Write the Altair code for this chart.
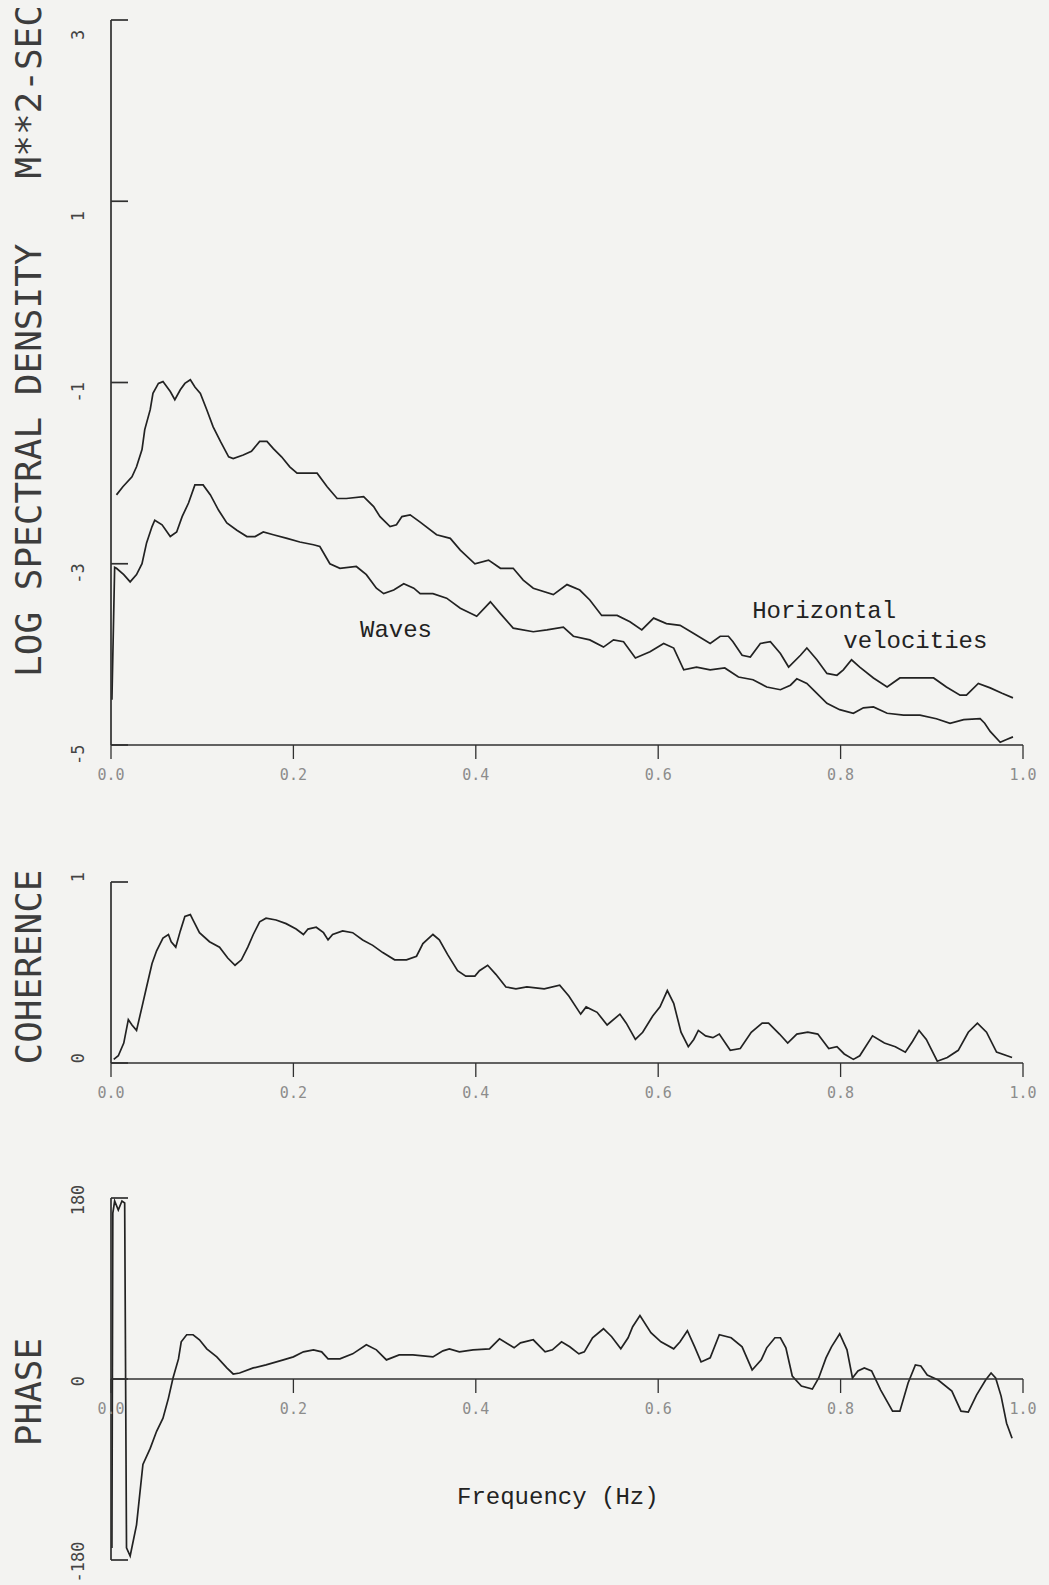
import altair as alt
import pandas as pd

# ---------------- data ----------------
# Log spectral density, horizontal velocities (upper curve)
f_hv = [0.006, 0.013, 0.023, 0.028, 0.034, 0.037, 0.043, 0.046, 0.052, 0.057,
        0.065, 0.070, 0.076, 0.081, 0.087, 0.092, 0.098, 0.105, 0.112, 0.120,
        0.129, 0.134, 0.145, 0.154, 0.163, 0.171, 0.178, 0.187, 0.196, 0.204,
        0.215, 0.226, 0.237, 0.248, 0.258, 0.277, 0.288, 0.295, 0.306, 0.313,
        0.319, 0.328, 0.339, 0.357, 0.372, 0.383, 0.399, 0.414, 0.427, 0.441,
        0.452, 0.463, 0.485, 0.500, 0.514, 0.525, 0.538, 0.555, 0.569, 0.582,
        0.595, 0.609, 0.624, 0.639, 0.657, 0.668, 0.677, 0.682, 0.692, 0.701,
        0.712, 0.723, 0.734, 0.743, 0.756, 0.763, 0.774, 0.785, 0.796, 0.803,
        0.812, 0.821, 0.836, 0.851, 0.865, 0.883, 0.902, 0.916, 0.931, 0.938,
        0.951, 0.964, 0.977, 0.989]
psd_hv = [-2.24, -2.15, -2.04, -1.93, -1.74, -1.52, -1.30, -1.12, -1.01, -0.99,
          -1.10, -1.19, -1.08, -1.01, -0.97, -1.05, -1.12, -1.30, -1.49, -1.65,
          -1.82, -1.84, -1.80, -1.76, -1.65, -1.65, -1.73, -1.82, -1.93, -2.00,
          -2.00, -2.00, -2.15, -2.28, -2.28, -2.26, -2.37, -2.48, -2.59, -2.57,
          -2.48, -2.46, -2.54, -2.68, -2.72, -2.85, -3.00, -2.96, -3.05, -3.05,
          -3.18, -3.27, -3.34, -3.23, -3.29, -3.40, -3.57, -3.57, -3.64, -3.73,
          -3.60, -3.66, -3.68, -3.77, -3.88, -3.80, -3.80, -3.86, -4.01, -4.03,
          -3.88, -3.86, -3.99, -4.14, -4.01, -3.93, -4.06, -4.21, -4.23, -4.17,
          -4.06, -4.14, -4.26, -4.36, -4.26, -4.26, -4.26, -4.36, -4.45, -4.45,
          -4.32, -4.37, -4.43, -4.48]

# Log spectral density, waves (lower curve)
f_wv = [0.001, 0.004, 0.006, 0.014, 0.021, 0.028, 0.034, 0.039, 0.045, 0.048,
        0.056, 0.065, 0.072, 0.078, 0.085, 0.092, 0.101, 0.109, 0.118, 0.127,
        0.138, 0.149, 0.158, 0.167, 0.178, 0.193, 0.207, 0.222, 0.229, 0.240,
        0.251, 0.269, 0.280, 0.291, 0.299, 0.310, 0.321, 0.332, 0.339, 0.353,
        0.368, 0.383, 0.401, 0.416, 0.427, 0.441, 0.463, 0.478, 0.496, 0.507,
        0.525, 0.540, 0.551, 0.562, 0.575, 0.591, 0.606, 0.617, 0.628, 0.642,
        0.657, 0.673, 0.688, 0.704, 0.719, 0.734, 0.745, 0.752, 0.763, 0.774,
        0.785, 0.799, 0.814, 0.825, 0.836, 0.851, 0.869, 0.887, 0.905, 0.920,
        0.935, 0.953, 0.958, 0.964, 0.975, 0.982, 0.989]
psd_wv = [-4.50, -3.04, -3.05, -3.12, -3.20, -3.12, -3.00, -2.77, -2.59, -2.52,
          -2.57, -2.70, -2.65, -2.48, -2.33, -2.13, -2.13, -2.24, -2.41, -2.55,
          -2.63, -2.70, -2.70, -2.65, -2.68, -2.72, -2.76, -2.79, -2.81, -3.00,
          -3.05, -3.03, -3.12, -3.27, -3.33, -3.29, -3.22, -3.27, -3.33, -3.33,
          -3.38, -3.49, -3.58, -3.42, -3.55, -3.71, -3.75, -3.73, -3.70, -3.80,
          -3.84, -3.92, -3.84, -3.86, -4.04, -3.97, -3.88, -3.93, -4.17, -4.14,
          -4.17, -4.15, -4.25, -4.28, -4.36, -4.39, -4.34, -4.27, -4.32, -4.43,
          -4.54, -4.61, -4.65, -4.59, -4.58, -4.65, -4.67, -4.67, -4.71, -4.76,
          -4.72, -4.71, -4.76, -4.85, -4.97, -4.94, -4.91]

# Coherence
f_coh = [0.003, 0.008, 0.014, 0.019, 0.023, 0.028, 0.034, 0.039, 0.045, 0.050,
         0.057, 0.063, 0.066, 0.071, 0.076, 0.081, 0.087, 0.090, 0.097, 0.108,
         0.119, 0.128, 0.136, 0.143, 0.150, 0.156, 0.163, 0.170, 0.181, 0.192,
         0.203, 0.211, 0.216, 0.225, 0.233, 0.238, 0.243, 0.254, 0.265, 0.276,
         0.287, 0.298, 0.311, 0.324, 0.335, 0.342, 0.353, 0.360, 0.369, 0.380,
         0.389, 0.399, 0.404, 0.413, 0.422, 0.433, 0.444, 0.456, 0.475, 0.492,
         0.502, 0.515, 0.521, 0.533, 0.544, 0.558, 0.565, 0.575, 0.583, 0.594,
         0.602, 0.610, 0.617, 0.625, 0.633, 0.639, 0.644, 0.652, 0.660, 0.667,
         0.679, 0.690, 0.702, 0.714, 0.721, 0.733, 0.742, 0.752, 0.764, 0.775,
         0.787, 0.796, 0.804, 0.814, 0.821, 0.835, 0.848, 0.860, 0.871, 0.879,
         0.886, 0.894, 0.906, 0.917, 0.929, 0.940, 0.950, 0.960, 0.971, 0.988]
coh = [0.02, 0.04, 0.11, 0.24, 0.21, 0.18, 0.31, 0.42, 0.55, 0.62,
       0.69, 0.71, 0.67, 0.64, 0.73, 0.81, 0.82, 0.79, 0.72, 0.67,
       0.64, 0.58, 0.54, 0.57, 0.64, 0.71, 0.78, 0.80, 0.79, 0.77,
       0.74, 0.71, 0.74, 0.75, 0.72, 0.68, 0.71, 0.73, 0.72, 0.68,
       0.65, 0.61, 0.57, 0.57, 0.59, 0.66, 0.71, 0.68, 0.60, 0.51,
       0.48, 0.48, 0.51, 0.54, 0.49, 0.42, 0.41, 0.42, 0.41, 0.43,
       0.37, 0.27, 0.31, 0.28, 0.21, 0.27, 0.22, 0.13, 0.17, 0.26,
       0.31, 0.40, 0.33, 0.17, 0.09, 0.13, 0.18, 0.15, 0.14, 0.16,
       0.07, 0.08, 0.17, 0.22, 0.22, 0.16, 0.11, 0.16, 0.17, 0.16,
       0.08, 0.09, 0.05, 0.02, 0.04, 0.15, 0.11, 0.09, 0.06, 0.12,
       0.18, 0.13, 0.01, 0.03, 0.07, 0.17, 0.22, 0.17, 0.06, 0.03]

# Phase (degrees)
f_ph = [0.001, 0.002, 0.004, 0.008, 0.012, 0.015, 0.017, 0.021, 0.028, 0.035,
        0.043, 0.050, 0.057, 0.063, 0.068, 0.074, 0.077, 0.083, 0.090, 0.097,
        0.105, 0.116, 0.127, 0.134, 0.141, 0.156, 0.170, 0.189, 0.200, 0.211,
        0.222, 0.231, 0.238, 0.251, 0.265, 0.280, 0.291, 0.302, 0.316, 0.331,
        0.353, 0.364, 0.371, 0.382, 0.397, 0.415, 0.426, 0.442, 0.449, 0.463,
        0.476, 0.484, 0.494, 0.503, 0.513, 0.519, 0.528, 0.540, 0.549, 0.559,
        0.567, 0.572, 0.580, 0.592, 0.603, 0.617, 0.624, 0.632, 0.640, 0.647,
        0.657, 0.667, 0.680, 0.692, 0.703, 0.713, 0.719, 0.728, 0.734, 0.740,
        0.747, 0.757, 0.769, 0.776, 0.784, 0.790, 0.799, 0.807, 0.813, 0.819,
        0.826, 0.834, 0.844, 0.857, 0.865, 0.874, 0.882, 0.888, 0.895, 0.907,
        0.922, 0.932, 0.940, 0.949, 0.959, 0.965, 0.970, 0.976, 0.982, 0.988]
phase = [-168, 165, 177, 168, 177, 175, -168, -176, -145, -85,
         -69, -52, -39, -19, 1, 20, 37, 44, 44, 39,
         30, 22, 11, 5, 6, 11, 14, 19, 22, 27,
         29, 27, 20, 20, 25, 34, 29, 19, 24, 24,
         22, 28, 30, 27, 29, 30, 40, 31, 36, 39,
         27, 29, 37, 32, 25, 27, 41, 50, 42, 30,
         41, 52, 63, 46, 37, 30, 37, 48, 32, 17,
         21, 44, 41, 32, 9, 19, 31, 41, 41, 31,
         3, -7, -10, 1, 21, 32, 45, 29, 1, 8,
         11, 8, -11, -32, -32, -4, 14, 13, 4, -1,
         -12, -32, -33, -16, -1, 6, 1, -17, -44, -59]

# Ticks and labels
x_ticks = [0.0, 0.2, 0.4, 0.6, 0.8, 1.0]
x_tick_labels = ["0.0", "0.2", "0.4", "0.6", "0.8", "1.0"]
psd_ticks = [3, 1, -1, -3, -5]
psd_tick_labels = ["3", "1", "-1", "-3", "-5"]
coh_ticks = [1, 0]
coh_tick_labels = ["1", "0"]
ph_ticks = [180, 0, -180]
ph_tick_labels = ["180", "0", "-180"]

# Annotations (data coordinates of the top panel)
ann_text = ["Waves", "Horizontal", "velocities"]
ann_f = [0.273, 0.703, 0.803]
ann_v = [-3.81, -3.60, -3.93]

NB = "\u00a0"
psd_title = "LOG SPECTRAL DENSITY" + NB * 3 + "M**2-SEC"

# ---------------- styling ----------------
BG = "#f3f3f1"
INK = "#222222"
AX = "#303030"
MONO = "DejaVu Sans Mono"
TYPE = "Liberation Mono"

XS = alt.Scale(domain=[0, 1], range=[111, 1023], nice=False, zero=False)
YS_PSD = alt.Scale(domain=[-5, 3], range=[745, 20], nice=False, zero=False)
YS_COH = alt.Scale(domain=[0, 1], range=[1063, 882], nice=False, zero=False)
YS_PH = alt.Scale(domain=[-180, 180], range=[1560, 1198], nice=False, zero=False)


def xf(field):
    return alt.X(field, type="quantitative", scale=XS, axis=None)


def xd(v):
    return alt.XDatum(v, scale=XS, axis=None)


def yf(field, ys):
    return alt.Y(field, type="quantitative", scale=ys, axis=None)


def yd(v, ys):
    return alt.YDatum(v, scale=ys, axis=None)


ONE = pd.DataFrame({"k": [0]})


def frame(ys, y0, y1, xaxis_at, yticks, ylabels, label_style):
    yaxis = alt.Chart(ONE).mark_rule(color=AX, strokeWidth=1.7).encode(
        x=xd(0), y=yd(y0, ys), y2=alt.Y2Datum(y1))
    xaxis = alt.Chart(ONE).mark_rule(color=AX, strokeWidth=1.7).encode(
        x=xd(0), x2=alt.X2Datum(1), y=yd(xaxis_at, ys))
    yt = alt.Chart(pd.DataFrame({"t": yticks})).mark_rule(
        color=AX, strokeWidth=1.7, x2Offset=17).encode(
        x=xd(0), x2=alt.X2Datum(0), y=yf("t", ys))
    xt = alt.Chart(pd.DataFrame({"t": x_ticks})).mark_rule(
        color=AX, strokeWidth=1.3, y2Offset=14).encode(
        x=xf("t"), y=yd(xaxis_at, ys), y2=alt.Y2Datum(xaxis_at))
    xl = alt.Chart(pd.DataFrame({"t": x_ticks, "lab": x_tick_labels})).mark_text(
        font=MONO, fontSize=15, color="#8c8c8c", align="center",
        baseline="middle", dy=30).encode(
        x=xf("t"), y=yd(xaxis_at, ys), text="lab:N")
    yl = alt.Chart(pd.DataFrame({"t": yticks, "lab": ylabels})).mark_text(
        font=MONO, fontSize=17, color="#444444", angle=270,
        baseline="middle", dy=-32, **label_style).encode(
        x=xd(0), y=yf("t", ys), text="lab:N")
    return [yaxis, xaxis, yt, xt, xl, yl]


# ---------------- top panel ----------------
df_psd = pd.DataFrame(
    [(f, v, "Horizontal velocities") for f, v in zip(f_hv, psd_hv)]
    + [(f, v, "Waves") for f, v in zip(f_wv, psd_wv)],
    columns=["f", "v", "s"])

psd_lines = alt.Chart(df_psd).mark_line(color=INK, strokeWidth=1.7).encode(
    x=xf("f"), y=yf("v", YS_PSD), detail="s:N")

df_ann = pd.DataFrame({"f": ann_f, "v": ann_v, "txt": ann_text})
psd_ann = alt.Chart(df_ann).mark_text(
    font=TYPE, fontSize=24, color="#222222", align="left",
    baseline="alphabetic").encode(x=xf("f"), y=yf("v", YS_PSD), text="txt:N")

top = alt.layer(
    psd_lines, psd_ann,
    *frame(YS_PSD, -5, 3, -5, psd_ticks, psd_tick_labels,
           {"align": "left", "dx": -20}))

# ---------------- coherence panel ----------------
df_coh = pd.DataFrame({"f": f_coh, "c": coh})
coh_line = alt.Chart(df_coh).mark_line(color=INK, strokeWidth=1.7).encode(
    x=xf("f"), y=yf("c", YS_COH))
mid = alt.layer(
    coh_line,
    *frame(YS_COH, 0, 1, 0, coh_ticks, coh_tick_labels,
           {"align": "center", "dx": 5}))

# ---------------- phase panel ----------------
df_ph = pd.DataFrame({"f": f_ph, "p": phase})
ph_line = alt.Chart(df_ph).mark_line(color=INK, strokeWidth=1.7).encode(
    x=xf("f"), y=yf("p", YS_PH))
bot = alt.layer(
    ph_line,
    *frame(YS_PH, -180, 180, 0, ph_ticks, ph_tick_labels,
           {"align": "center", "dx": -2}))

# ---------------- axis titles ----------------
def vtitle(text, y):
    return alt.Chart(ONE).mark_text(
        font=MONO, fontSize=36, color="#3c3c3c", angle=270,
        align="center", baseline="middle").encode(
        x=alt.value(30), y=alt.value(y), text=alt.value(text))


t1 = vtitle(psd_title, 341)
t2 = vtitle("COHERENCE", 967)
t3 = vtitle("PHASE", 1392)
t4 = alt.Chart(ONE).mark_text(
    font=TYPE, fontSize=24, color="#222222", align="left",
    baseline="alphabetic").encode(
    x=alt.value(457), y=alt.value(1504), text=alt.value("Frequency (Hz)"))
titles = alt.layer(t1, t2, t3, t4)

chart = alt.layer(top, mid, bot, titles).resolve_scale(
    y="independent"
).properties(
    width=1049, height=1585,
    autosize=alt.AutoSizeParams(type="none"),
    padding=0,
    background=BG,
).configure_view(stroke=None)

chart.save("out.html", embed_options={"renderer": "svg", "actions": False})
